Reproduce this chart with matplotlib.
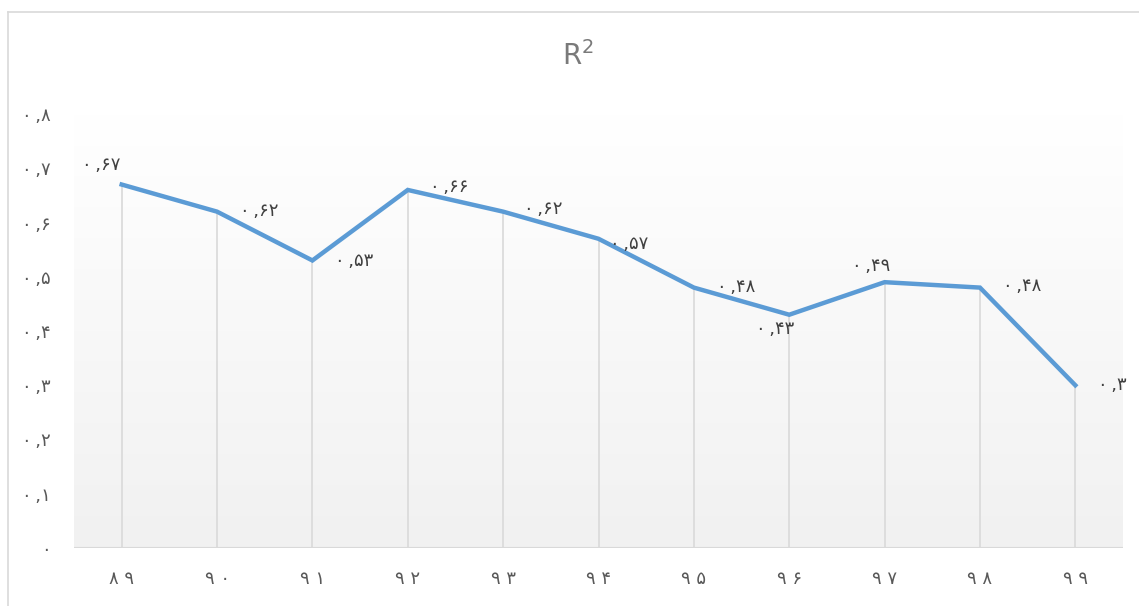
import numpy as np
import matplotlib
matplotlib.use("Agg")
import matplotlib.pyplot as plt

plt.rcParams['font.family'] = ['DejaVu Sans']

# ---- data ----
years = ["89", "90", "91", "92", "93", "94", "95", "96", "97", "98", "99"]
r2_values = [0.67, 0.62, 0.53, 0.66, 0.62, 0.57, 0.48, 0.43, 0.49, 0.48, 0.30]
y_ticks = [0.0, 0.1, 0.2, 0.3, 0.4, 0.5, 0.6, 0.7, 0.8]
title_text = "R$^{2}$"

# label offsets in pixels (style)
label_offsets = [(-20, 20), (42, 1), (42, -1), (41, 3), (40, 3), (31, -5),
                 (42, 1), (-14, -14), (-13, 16), (42, 2), (37, 0)]

FA = str.maketrans("0123456789", "۰۱۲۳۴۵۶۷۸۹")


def fa_num(v):
    if v == 0:
        return "0".translate(FA)
    s = ("%.2f" % v).rstrip("0").rstrip(".")
    return s.replace(".", "\u2009,").translate(FA)


def fa_year(y):
    return " ".join(y).translate(FA)


W, H = 1139, 606
fig = plt.figure(figsize=(W / 100, H / 100), dpi=100)
fig.patch.set_facecolor("white")

# outer chart border
fig.add_artist(plt.Line2D([8 / W, 8 / W], [0, 1 - 12 / H], transform=fig.transFigure,
                          color="#d9d9d9", lw=1.2))
fig.add_artist(plt.Line2D([8 / W, 1], [1 - 12 / H, 1 - 12 / H], transform=fig.transFigure,
                          color="#d9d9d9", lw=1.2))

left, right = 74 / W, 1123 / W
bottom, top = 1 - 548 / H, 1 - 114 / H
ax = fig.add_axes([left, bottom, right - left, top - bottom])

x = np.arange(len(years))
ax.set_xlim(-0.5, len(years) - 0.5)
ax.set_ylim(0, 0.8)

# gradient background
grad = np.linspace(1.0, 0.0, 256)
c_top = np.array([1.0, 1.0, 1.0])
c_bot = np.array([0.945, 0.945, 0.945])
img = (c_bot[None, :] + (c_top - c_bot)[None, :] * grad[:, None]).reshape(256, 1, 3)
ax.imshow(img, extent=[0, 1, 0, 1], transform=ax.transAxes, aspect="auto",
          zorder=0, interpolation="bilinear")

for s in ax.spines.values():
    s.set_visible(False)
ax.axhline(0, color="#d9d9d9", lw=1.5, zorder=2)

# drop lines
ax.vlines(x, 0, r2_values, color="#d9d9d9", lw=1.2, zorder=2)

ax.plot(x, r2_values, color="#5b9bd5", lw=3.2, zorder=3, solid_joinstyle="miter")

for xi, v, (dx, dy) in zip(x, r2_values, label_offsets):
    ax.annotate(fa_num(v), (xi, v), xytext=(dx * 0.72, dy * 0.72),
                textcoords="offset points", ha="center", va="center",
                fontsize=13, color="#404040", zorder=4, annotation_clip=False)

ax.set_xticks(x)
ax.set_xticklabels([fa_year(y) for y in years], fontsize=13, color="#595959")
ax.set_yticks(y_ticks)
ax.set_yticklabels([fa_num(t) for t in y_ticks], fontsize=13, color="#595959")
ax.tick_params(axis="x", length=0, pad=16)
ax.tick_params(axis="y", length=0, pad=17)

fig.text(578 / W, 1 - 56 / H, title_text, ha="center", va="center",
         fontsize=20, color="#7a7a7a")

fig.savefig("out.png", dpi=100, facecolor="white")
